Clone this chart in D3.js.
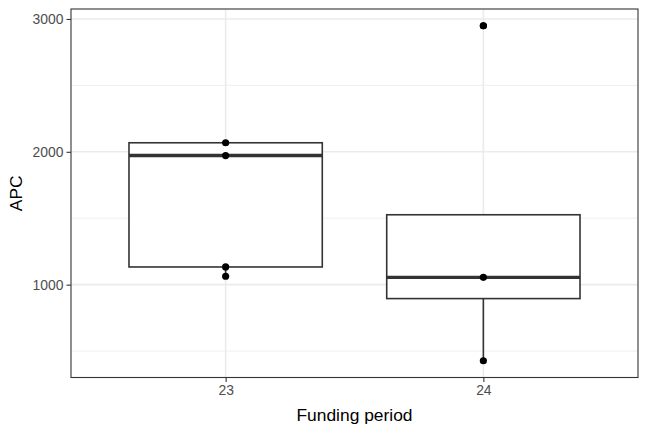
<!DOCTYPE html>
<html>
<head>
<meta charset="utf-8">
<script src="https://cdn.jsdelivr.net/npm/d3@7"></script>
<style>
  html, body { margin: 0; padding: 0; background: #fff; }
  svg { display: block; }
</style>
</head>
<body>
<svg id="chart" width="648" height="432"></svg>
<script>
// ---- data ----
const categories = ["23", "24"];
const lowerWhisker = [1063, 427];
const q1 = [1133, 895];
const median = [1972, 1055];
const q3 = [2068, 1526];
const upperWhisker = [2068, 1526];
const outliers = [[], [2949]];
const points = [[2068, 1972, 1133, 1063], [2949, 1055, 427]];
const yTicks = [1000, 2000, 3000];
const yMinorTicks = [500, 1500, 2500];
const xTitle = "Funding period";
const yTitle = "APC";

// ---- layout ----
const W = 648, H = 432;
const panel = { left: 71, right: 638, top: 9, bottom: 377.5 };
const svg = d3.select("#chart");

const allVals = points.flat().concat(lowerWhisker, upperWhisker, outliers.flat());
const lo = d3.min(allVals), hi = d3.max(allVals);
const pad = (hi - lo) * 0.05;

const y = d3.scaleLinear().domain([lo - pad, hi + pad]).range([panel.bottom, panel.top]);
const x = d3.scalePoint().domain(categories).range([panel.left, panel.right]).padding(0.6);
const boxW = x.step() * 0.75;

const gridColor = "#EBEBEB";
const darkLine = "#333333";

// panel background
svg.append("rect").attr("x", panel.left).attr("y", panel.top)
  .attr("width", panel.right - panel.left).attr("height", panel.bottom - panel.top)
  .attr("fill", "#fff");

// minor grid
svg.append("g").selectAll("line").data(yMinorTicks).join("line")
  .attr("x1", panel.left).attr("x2", panel.right)
  .attr("y1", d => y(d)).attr("y2", d => y(d))
  .attr("stroke", gridColor).attr("stroke-width", 0.8);

// major grid
svg.append("g").selectAll("line").data(yTicks).join("line")
  .attr("x1", panel.left).attr("x2", panel.right)
  .attr("y1", d => y(d)).attr("y2", d => y(d))
  .attr("stroke", gridColor).attr("stroke-width", 1.6);
svg.append("g").selectAll("line").data(categories).join("line")
  .attr("y1", panel.top).attr("y2", panel.bottom)
  .attr("x1", d => x(d)).attr("x2", d => x(d))
  .attr("stroke", gridColor).attr("stroke-width", 1.6);

// boxplots
const boxes = categories.map((c, i) => ({
  c, lw: lowerWhisker[i], q1: q1[i], med: median[i], q3: q3[i], uw: upperWhisker[i]
}));
const bg = svg.append("g");
boxes.forEach(b => {
  const cx = x(b.c);
  if (b.uw > b.q3) bg.append("line").attr("x1", cx).attr("x2", cx)
    .attr("y1", y(b.q3)).attr("y2", y(b.uw)).attr("stroke", darkLine).attr("stroke-width", 1.6);
  if (b.lw < b.q1) bg.append("line").attr("x1", cx).attr("x2", cx)
    .attr("y1", y(b.q1)).attr("y2", y(b.lw)).attr("stroke", darkLine).attr("stroke-width", 1.6);
  bg.append("rect").attr("x", cx - boxW / 2).attr("y", y(b.q3))
    .attr("width", boxW).attr("height", y(b.q1) - y(b.q3))
    .attr("fill", "#fff").attr("stroke", darkLine).attr("stroke-width", 1.6);
  bg.append("line").attr("x1", cx - boxW / 2).attr("x2", cx + boxW / 2)
    .attr("y1", y(b.med)).attr("y2", y(b.med))
    .attr("stroke", darkLine).attr("stroke-width", 3.4);
});

// outliers (boxplot) and points
categories.forEach((c, i) => {
  svg.append("g").selectAll("circle").data(outliers[i]).join("circle")
    .attr("cx", x(c)).attr("cy", d => y(d)).attr("r", 3.6).attr("fill", "#000");
  svg.append("g").selectAll("circle").data(points[i]).join("circle")
    .attr("cx", x(c)).attr("cy", d => y(d)).attr("r", 3.6).attr("fill", "#000");
});

// panel border
svg.append("rect").attr("x", panel.left).attr("y", panel.top)
  .attr("width", panel.right - panel.left).attr("height", panel.bottom - panel.top)
  .attr("fill", "none").attr("stroke", darkLine).attr("stroke-width", 1.1);

// axes
const fontFam = "'Liberation Sans', Arial, Helvetica, sans-serif";
const yAxis = d3.axisLeft(y).tickValues(yTicks).tickSize(4.5).tickPadding(3).tickFormat(d3.format("d"));
const gy = svg.append("g").attr("transform", `translate(${panel.left},0)`).call(yAxis);
const xAxis = d3.axisBottom(x).tickSize(4.5).tickPadding(3);
const gx = svg.append("g").attr("transform", `translate(0,${panel.bottom})`).call(xAxis);
[gx, gy].forEach(g => {
  g.select(".domain").remove();
  g.selectAll(".tick line").attr("stroke", darkLine).attr("stroke-width", 1.1);
  g.selectAll(".tick text").attr("fill", "#4D4D4D")
    .style("font-family", fontFam).style("font-size", "13.9px");
});

// titles
svg.append("text").attr("x", (panel.left + panel.right) / 2).attr("y", 421)
  .attr("text-anchor", "middle").attr("fill", "#000")
  .style("font-family", fontFam).style("font-size", "17.4px").text(xTitle);
svg.append("text")
  .attr("transform", `translate(22,${(panel.top + panel.bottom) / 2}) rotate(-90)`)
  .attr("text-anchor", "middle").attr("fill", "#000")
  .style("font-family", fontFam).style("font-size", "17.4px").text(yTitle);
</script>
</body>
</html>
